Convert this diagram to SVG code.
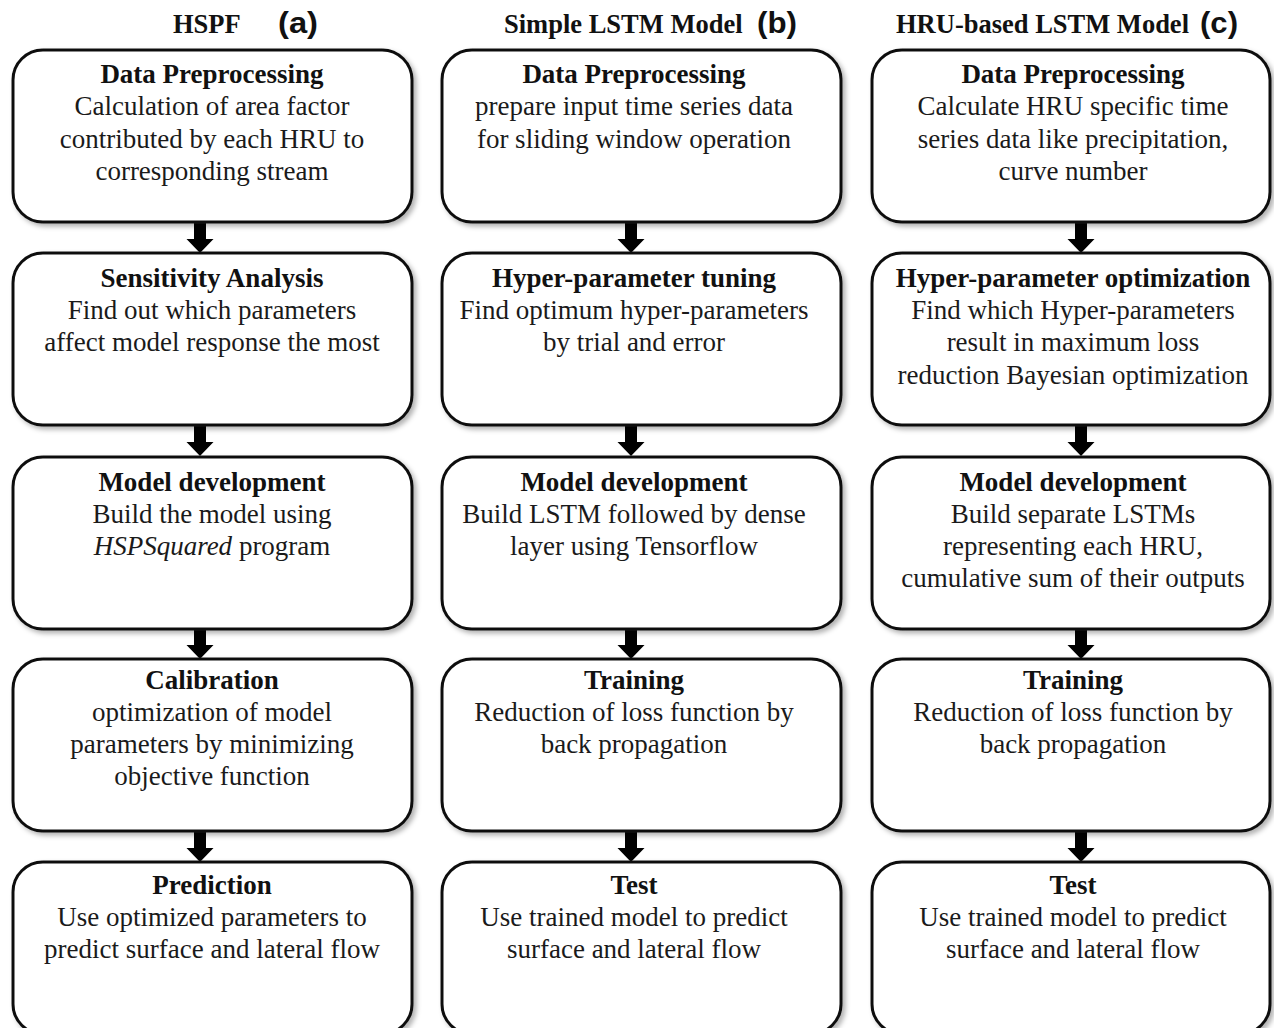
<svg xmlns="http://www.w3.org/2000/svg" width="1274" height="1028" viewBox="0 0 1274 1028">
<style>
.box{fill:#fff;stroke:#111;stroke-width:3;filter:url(#sh)}
.t{font-family:"Liberation Serif","Times New Roman",serif;font-weight:bold;font-size:27px;fill:#111;text-anchor:middle}
.b{font-family:"Liberation Serif","Times New Roman",serif;font-size:27px;fill:#1a1a1a;text-anchor:middle}
.h{font-family:"Liberation Serif","Times New Roman",serif;font-weight:bold;font-size:26.5px;fill:#111}
.l{font-family:"Liberation Sans",Arial,sans-serif;font-weight:bold;font-size:30px;fill:#111}
.arr{fill:#000}
</style>
<defs>
<filter id="sh" x="-5%" y="-5%" width="115%" height="120%">
<feDropShadow dx="3" dy="3" stdDeviation="2.5" flood-color="#000" flood-opacity="0.3"/>
</filter>
<path id="ar" d="M-6,0 H6 V17 H13.5 L0,31 L-13.5,17 H-6 Z"/>
</defs>
<rect width="1274" height="1028" fill="#fff"/>
<g id="headers">
<text class="h" x="173" y="33">HSPF</text><text class="l" x="278" y="33" textLength="40" lengthAdjust="spacingAndGlyphs">(a)</text>
<text class="h" x="504" y="33">Simple LSTM Model</text><text class="l" x="757" y="33" textLength="40" lengthAdjust="spacingAndGlyphs">(b)</text>
<text class="h" x="896" y="33">HRU-based LSTM Model</text><text class="l" x="1200" y="33" textLength="38" lengthAdjust="spacingAndGlyphs">(c)</text>
</g>
<g id="connectors" class="arr">
<use href="#ar" x="200" y="222"/><use href="#ar" x="200" y="425"/><use href="#ar" x="200" y="628"/><use href="#ar" x="200" y="831"/>
<use href="#ar" x="631" y="222"/><use href="#ar" x="631" y="425"/><use href="#ar" x="631" y="628"/><use href="#ar" x="631" y="831"/>
<use href="#ar" x="1081" y="222"/><use href="#ar" x="1081" y="425"/><use href="#ar" x="1081" y="628"/><use href="#ar" x="1081" y="831"/>
</g>
<!-- column a -->
<g id="a1"><rect class="box" x="13" y="50" width="399" height="172" rx="30"/>
<text class="t" x="212" y="83">Data Preprocessing</text>
<text class="b" x="212" y="115">Calculation of area factor</text>
<text class="b" x="212" y="148">contributed by each HRU to</text>
<text class="b" x="212" y="180">corresponding stream</text></g>
<g id="a2"><rect class="box" x="13" y="253" width="399" height="172" rx="30"/>
<text class="t" x="212" y="287">Sensitivity Analysis</text>
<text class="b" x="212" y="319">Find out which parameters</text>
<text class="b" x="212" y="351">affect model response the most</text></g>
<g id="a3"><rect class="box" x="13" y="457" width="399" height="172" rx="30"/>
<text class="t" x="212" y="491">Model development</text>
<text class="b" x="212" y="523">Build the model using</text>
<text class="b" x="212" y="555"><tspan font-style="italic">HSPSquared</tspan> program</text></g>
<g id="a4"><rect class="box" x="13" y="659" width="399" height="172" rx="30"/>
<text class="t" x="212" y="689">Calibration</text>
<text class="b" x="212" y="721">optimization of model</text>
<text class="b" x="212" y="753">parameters by minimizing</text>
<text class="b" x="212" y="785">objective function</text></g>
<g id="a5"><rect class="box" x="13" y="862" width="399" height="172" rx="30"/>
<text class="t" x="212" y="894">Prediction</text>
<text class="b" x="212" y="926">Use optimized parameters to</text>
<text class="b" x="212" y="958">predict surface and lateral flow</text></g>
<!-- column b -->
<g id="b1"><rect class="box" x="442" y="50" width="399" height="172" rx="30"/>
<text class="t" x="634" y="83">Data Preprocessing</text>
<text class="b" x="634" y="115">prepare input time series data</text>
<text class="b" x="634" y="148">for sliding window operation</text></g>
<g id="b2"><rect class="box" x="442" y="253" width="399" height="172" rx="30"/>
<text class="t" x="634" y="287">Hyper-parameter tuning</text>
<text class="b" x="634" y="319">Find optimum hyper-parameters</text>
<text class="b" x="634" y="351">by trial and error</text></g>
<g id="b3"><rect class="box" x="442" y="457" width="399" height="172" rx="30"/>
<text class="t" x="634" y="491">Model development</text>
<text class="b" x="634" y="523">Build LSTM followed by dense</text>
<text class="b" x="634" y="555">layer using Tensorflow</text></g>
<g id="b4"><rect class="box" x="442" y="659" width="399" height="172" rx="30"/>
<text class="t" x="634" y="689">Training</text>
<text class="b" x="634" y="721">Reduction of loss function by</text>
<text class="b" x="634" y="753">back propagation</text></g>
<g id="b5"><rect class="box" x="442" y="862" width="399" height="172" rx="30"/>
<text class="t" x="634" y="894">Test</text>
<text class="b" x="634" y="926">Use trained model to predict</text>
<text class="b" x="634" y="958">surface and lateral flow</text></g>
<!-- column c -->
<g id="c1"><rect class="box" x="872" y="50" width="398" height="172" rx="30"/>
<text class="t" x="1073" y="83">Data Preprocessing</text>
<text class="b" x="1073" y="115">Calculate HRU specific time</text>
<text class="b" x="1073" y="148">series data like precipitation,</text>
<text class="b" x="1073" y="180">curve number</text></g>
<g id="c2"><rect class="box" x="872" y="253" width="398" height="172" rx="30"/>
<text class="t" x="1073" y="287">Hyper-parameter optimization</text>
<text class="b" x="1073" y="319">Find which Hyper-parameters</text>
<text class="b" x="1073" y="351">result in maximum loss</text>
<text class="b" x="1073" y="384">reduction Bayesian optimization</text></g>
<g id="c3"><rect class="box" x="872" y="457" width="398" height="172" rx="30"/>
<text class="t" x="1073" y="491">Model development</text>
<text class="b" x="1073" y="523">Build separate LSTMs</text>
<text class="b" x="1073" y="555">representing each HRU,</text>
<text class="b" x="1073" y="587">cumulative sum of their outputs</text></g>
<g id="c4"><rect class="box" x="872" y="659" width="398" height="172" rx="30"/>
<text class="t" x="1073" y="689">Training</text>
<text class="b" x="1073" y="721">Reduction of loss function by</text>
<text class="b" x="1073" y="753">back propagation</text></g>
<g id="c5"><rect class="box" x="872" y="862" width="398" height="172" rx="30"/>
<text class="t" x="1073" y="894">Test</text>
<text class="b" x="1073" y="926">Use trained model to predict</text>
<text class="b" x="1073" y="958">surface and lateral flow</text></g>
</svg>
